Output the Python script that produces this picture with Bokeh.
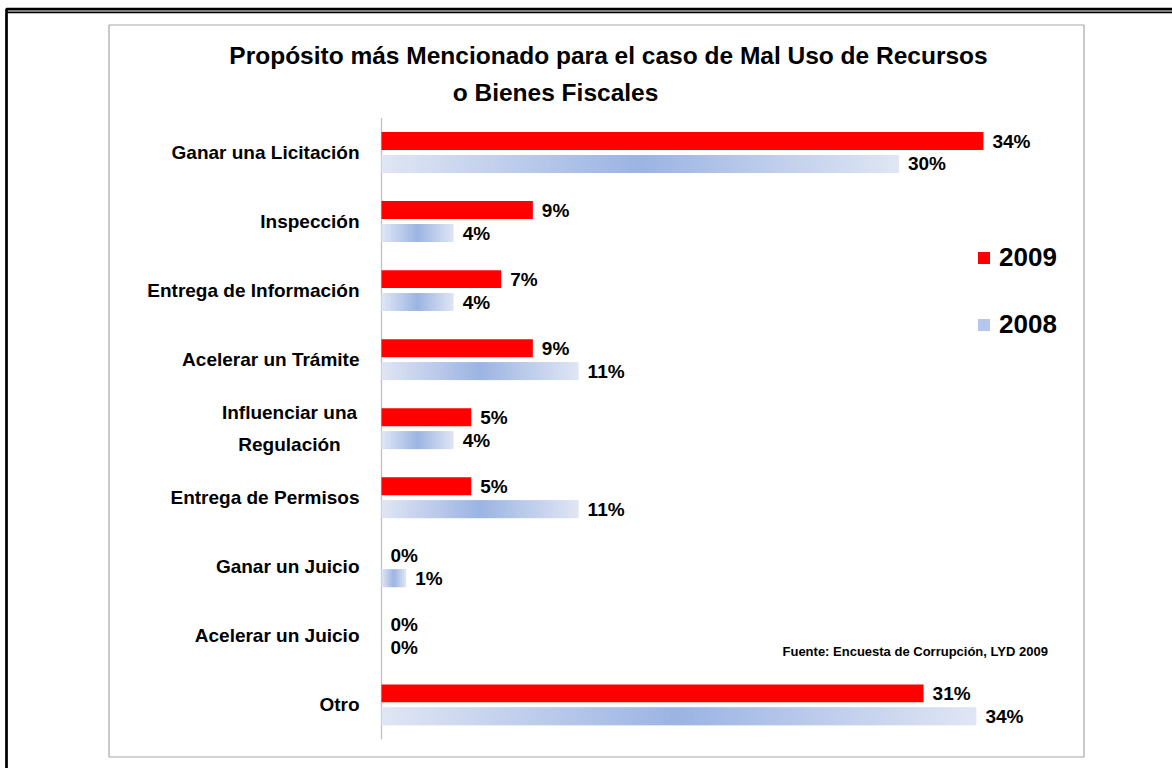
from bokeh.plotting import figure
from bokeh.models import (Range1d, ColumnDataSource, Label, BoxAnnotation,
                          Legend, LegendItem)
from bokeh.core.properties import value
from bokeh.embed import file_html
from bokeh.resources import INLINE

# ---------------- data ----------------
categories = ["Ganar una Licitación", "Inspección", "Entrega de Información",
              "Acelerar un Trámite", "Influenciar una\nRegulación",
              "Entrega de Permisos", "Ganar un Juicio", "Acelerar un Juicio", "Otro"]
values_2009 = [34.2, 8.6, 6.8, 8.6, 5.1, 5.1, 0.0, 0.0, 30.8]
values_2008 = [29.4, 4.1, 4.1, 11.2, 4.1, 11.2, 1.4, 0.0, 33.8]
labels_2009 = ["34%", "9%", "7%", "9%", "5%", "5%", "0%", "0%", "31%"]
labels_2008 = ["30%", "4%", "4%", "11%", "4%", "11%", "1%", "0%", "34%"]
series = ["2009", "2008"]
title_lines = ["Propósito más Mencionado para el caso de Mal Uso de Recursos",
               "o Bienes Fiscales"]
source_note = "Fuente: Encuesta de Corrupción, LYD 2009"

# ---------------- layout / style ----------------
FONT = "Liberation Sans"
W, H = 1172, 768
PX_PER_PCT = 17.6
ZERO_X = 381
ROW_PX = 69.04
FIRST_ROW_Y = 152
OFF = 0.166
BAR_H = 0.26
RED = "#FF0000"
DARK = (155, 180, 227)
LIGHT = (224, 230, 244)
SEG_PX = 2.0
OVERLAP = 1.2 / PX_PER_PCT

x_range = Range1d(-ZERO_X / PX_PER_PCT, (W - ZERO_X) / PX_PER_PCT)
y_range = Range1d((H - FIRST_ROW_Y) / ROW_PX, -FIRST_ROW_Y / ROW_PX)

p = figure(width=W, height=H, x_range=x_range, y_range=y_range, title=None,
           output_backend="svg", toolbar_location=None,
           x_axis_location=None, y_axis_location=None, min_border=0,
           outline_line_color=None, background_fill_color="white",
           border_fill_color="white")
p.xgrid.grid_line_color = None
p.ygrid.grid_line_color = None

n = len(categories)
idx = list(range(n))

# axis line
p.segment(x0=[0], y0=[-0.5], x1=[0], y1=[n - 0.5], line_color="#c0c0c0", line_width=1.3)

# 2009 bars
src09 = ColumnDataSource(dict(y=[i - OFF for i in idx], right=values_2009, label=labels_2009))
r09 = p.hbar(y="y", left=0, right="right", height=BAR_H, source=src09,
             fill_color=RED, line_color=None)

# 2008 bars with gradient (overlapping segments of each bar, light-dark-light)
seg_y, seg_l, seg_r, seg_c = [], [], [], []
first_nseg = None
for i, v in enumerate(values_2008):
    if v <= 0:
        continue
    nseg = max(6, int(round(v * PX_PER_PCT / SEG_PX)))
    if first_nseg is None:
        first_nseg = nseg
    for k in range(nseg):
        t = abs((k + 0.5) / nseg - 0.5) * 2
        c = tuple(round(d + (l - d) * t) for d, l in zip(DARK, LIGHT))
        seg_y.append(i + OFF)
        seg_l.append(v * k / nseg)
        seg_r.append(min(v, v * (k + 1) / nseg + OVERLAP))
        seg_c.append("#%02x%02x%02x" % c)
src08 = ColumnDataSource(dict(y=seg_y, left=seg_l, right=seg_r, color=seg_c))
r08 = p.hbar(y="y", left="left", right="right", height=BAR_H, source=src08,
             fill_color="color", line_color=None)

# value labels
p.text(x="right", y="y", text="label", source=src09, x_offset=9,
       text_align="left", text_baseline="middle", text_font=value(FONT),
       text_font_style="bold", text_font_size="19px", text_color="black")
src08l = ColumnDataSource(dict(y=[i + OFF for i in idx], x=values_2008, label=labels_2008))
p.text(x="x", y="y", text="label", source=src08l, x_offset=9,
       text_align="left", text_baseline="middle", text_font=value(FONT),
       text_font_style="bold", text_font_size="19px", text_color="black")

# category labels (multi-line label is centred as a block)
aligns = ["center" if "\n" in c else "right" for c in categories]
xoffs = [-92 if "\n" in c else -22 for c in categories]
srccat = ColumnDataSource(dict(x=[0] * n, y=idx, text=categories, align=aligns, xo=xoffs))
p.text(x="x", y="y", text="text", source=srccat, x_offset="xo", text_align="align",
       text_baseline="middle", text_font=value(FONT), text_font_style="bold",
       text_font_size="19px", text_line_height=1.53, text_color="black")

# legend
legend = Legend(items=[LegendItem(label=series[0], renderers=[r09]),
                       LegendItem(label=series[1], renderers=[r08],
                                  index=int(first_nseg * 0.32))],
                location=(976, 428), orientation="vertical",
                glyph_width=15, glyph_height=15, label_standoff=8, spacing=36,
                padding=0, margin=0, border_line_color=None,
                background_fill_alpha=0, label_text_font=FONT,
                label_text_font_style="bold", label_text_font_size="26px",
                label_text_color="black")
p.add_layout(legend)

# title
p.add_layout(Label(x=608, y=H - 55, x_units="screen", y_units="screen",
                   text=title_lines[0], text_align="center", text_baseline="alphabetic",
                   text_font=FONT, text_font_style="bold", text_font_size="24.5px",
                   text_color="black"))
p.add_layout(Label(x=555, y=H - 92, x_units="screen", y_units="screen",
                   text=title_lines[1], text_align="center", text_baseline="alphabetic",
                   text_font=FONT, text_font_style="bold", text_font_size="24.5px",
                   text_color="black"))

# source note
p.add_layout(Label(x=782, y=H - 651, x_units="screen", y_units="screen",
                   text=source_note, text_align="left", text_baseline="alphabetic",
                   text_font=FONT, text_font_style="bold", text_font_size="13px",
                   text_color="black"))

# chart-area border (gray)
p.add_layout(BoxAnnotation(left=108.5, right=1083.5, top=H - 24.5, bottom=H - 756.5,
                           left_units="screen", right_units="screen",
                           top_units="screen", bottom_units="screen",
                           fill_color=None, fill_alpha=0, line_color="#a6a6a6",
                           line_alpha=1.0, line_width=1.2))
# outer frame (black, double top line)
p.add_layout(BoxAnnotation(left=6, right=W + 20, top=H - 8.6, bottom=-20,
                           left_units="screen", right_units="screen",
                           top_units="screen", bottom_units="screen",
                           fill_color=None, fill_alpha=0, line_color="black",
                           line_alpha=1.0, line_width=2.6))
p.add_layout(BoxAnnotation(left=6, right=W + 20, top=H - 11.9, bottom=-20,
                           left_units="screen", right_units="screen",
                           top_units="screen", bottom_units="screen",
                           fill_color=None, fill_alpha=0, line_color="black",
                           line_alpha=1.0, line_width=1.6))

open("out.html", "w").write(file_html(p, INLINE))
